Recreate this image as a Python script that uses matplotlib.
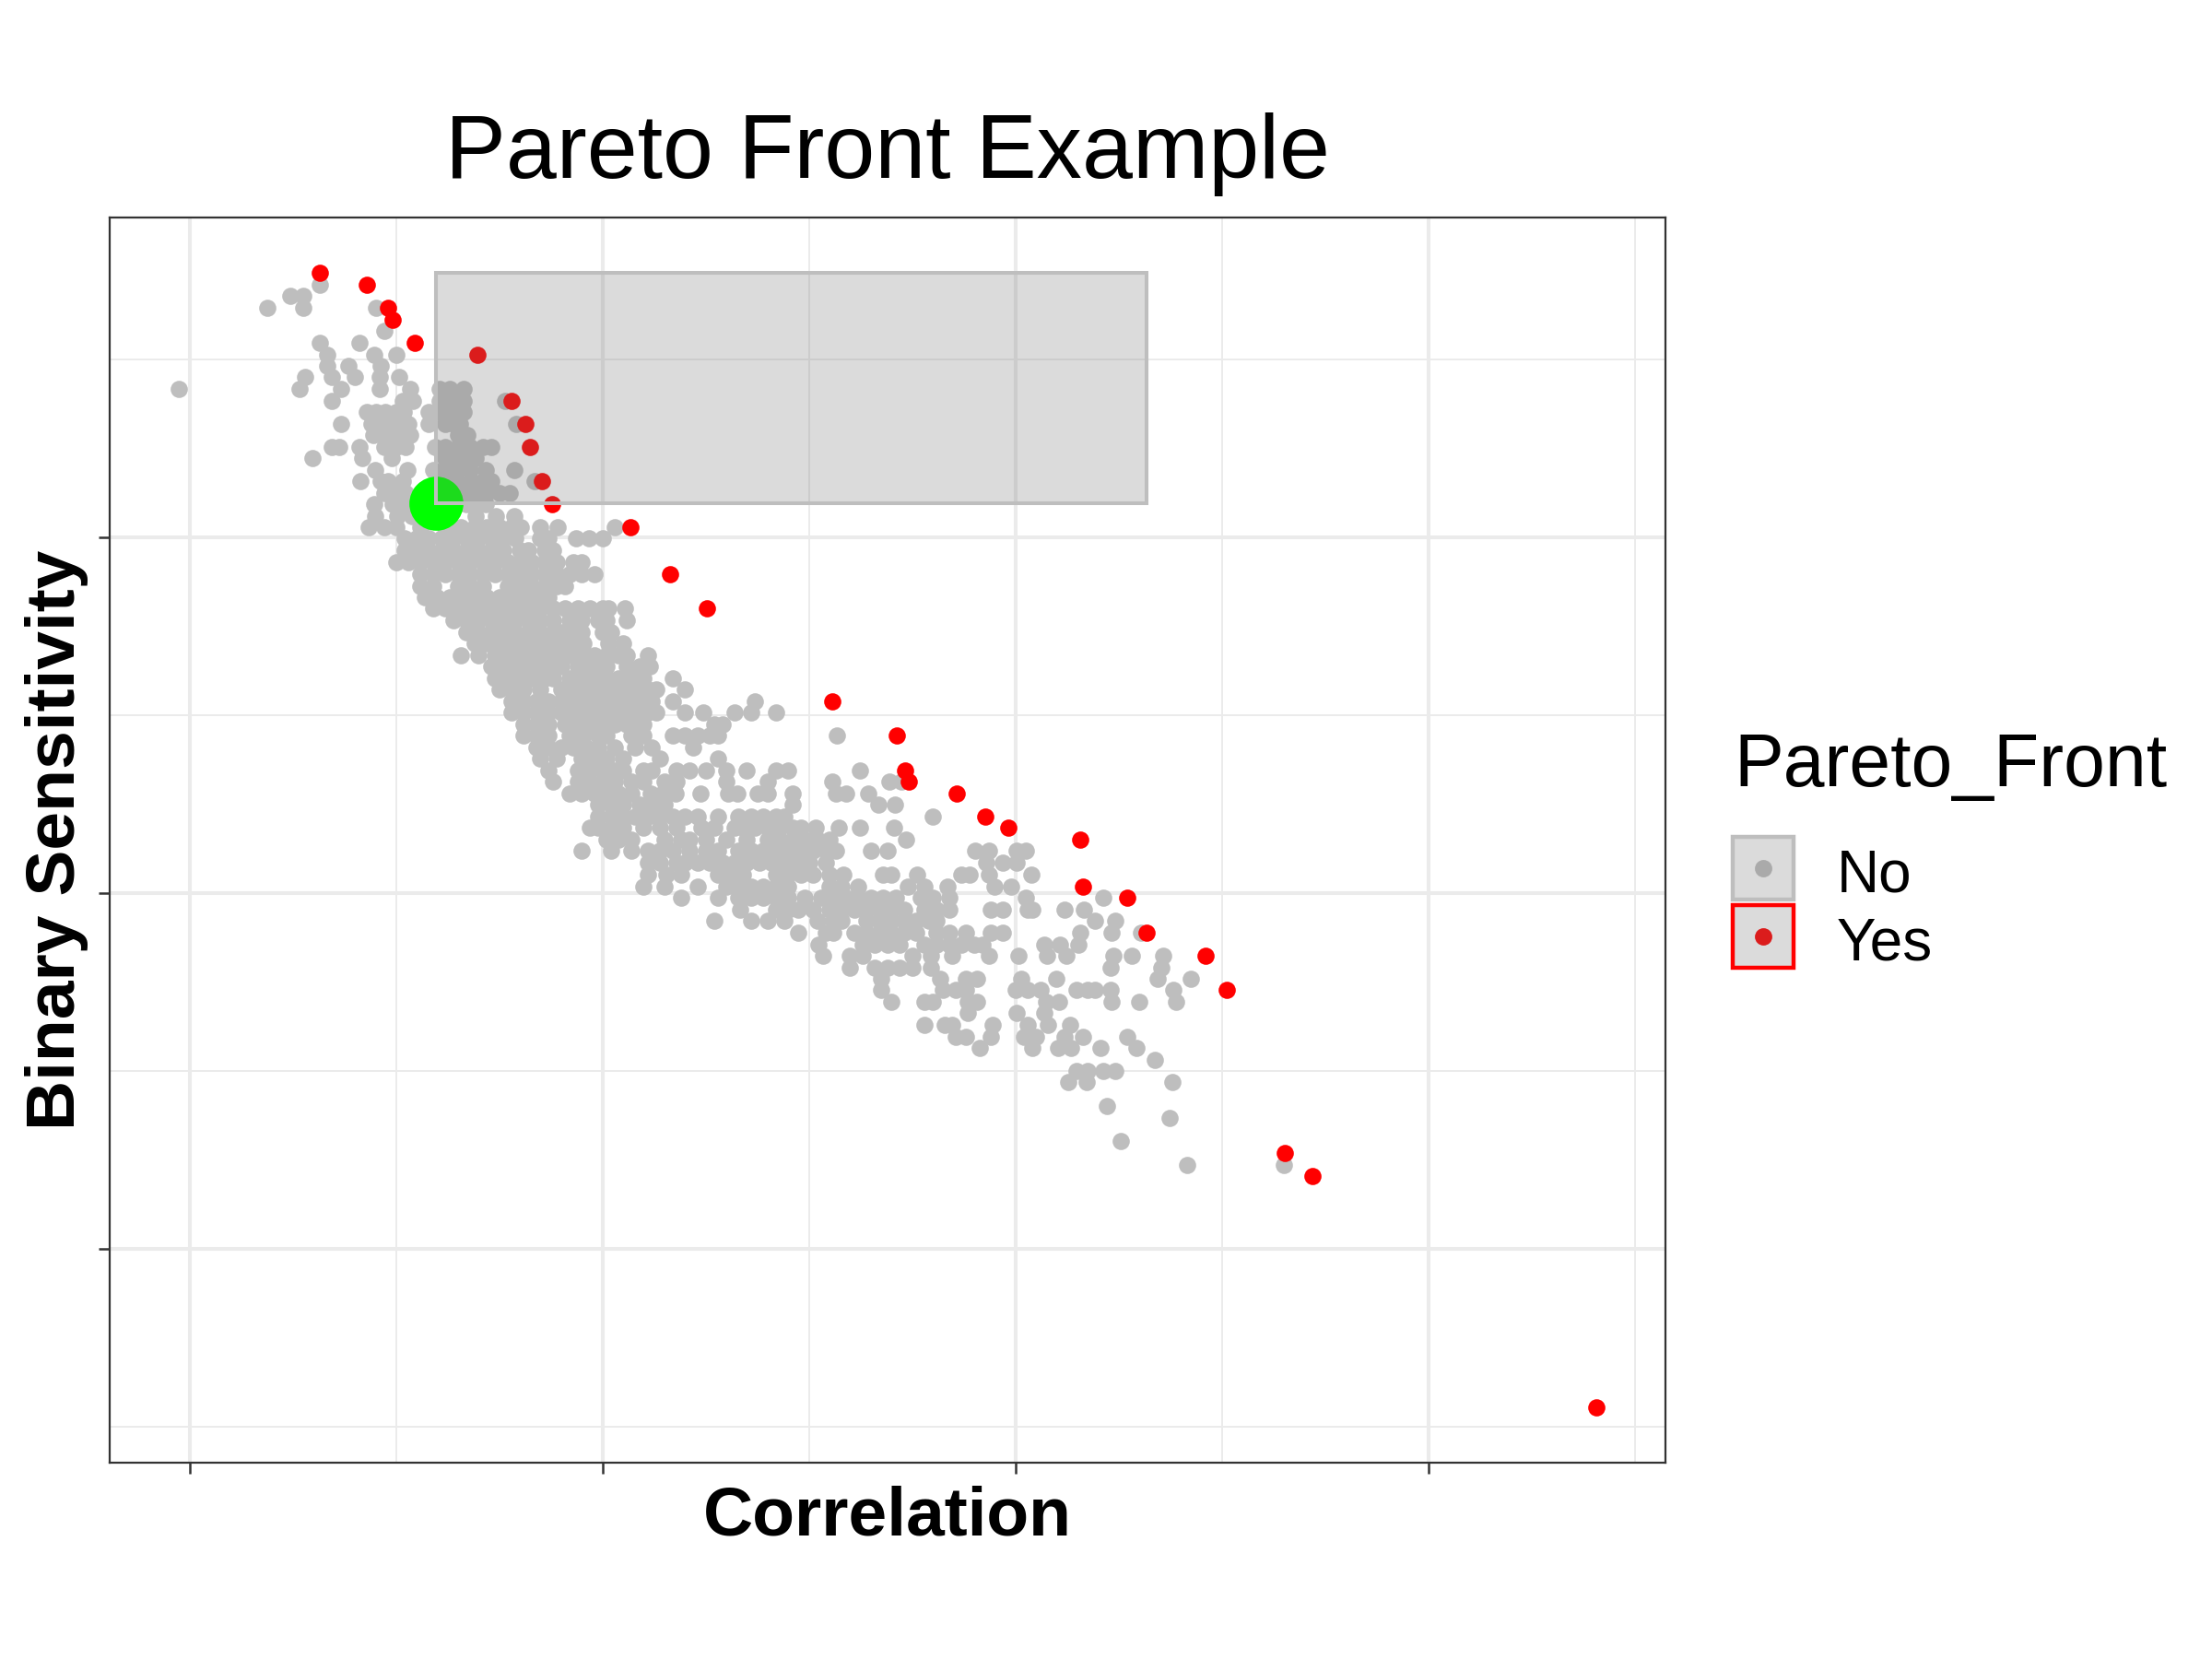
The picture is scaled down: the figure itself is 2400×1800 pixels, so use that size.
import matplotlib
matplotlib.use("Agg")
import matplotlib.pyplot as plt
from matplotlib.patches import Rectangle

plt.rcParams['font.family'] = ['Liberation Sans', 'DejaVu Sans']

# ---- data ----
# grey points, one row per sensitivity level
grey_y_upper = [2.710, 2.678, 2.645, 2.580, 2.547, 2.514, 2.482, 2.450, 2.417, 2.385,
                2.352, 2.320, 2.288, 2.255, 2.222, 2.190, 2.158, 2.125, 2.093, 2.060]
grey_x_upper = [
    [0.315],
    [0.244, 0.275],
    [0.188, 0.275, 0.451],
    [0.472],
    [0.316, 0.411],
    [0.333, 0.447, 0.501],
    [0.333, 0.385, 0.463],
    [0.280, 0.344, 0.400, 0.460, 0.508],
    [-0.025, 0.266, 0.367, 0.460, 0.534, 0.605, 0.631, 0.664],
    [0.344, 0.516, 0.542, 0.605, 0.620, 0.640, 0.664, 0.765],
    [0.430, 0.452, 0.475, 0.500, 0.518, 0.579, 0.600, 0.630, 0.664],
    [0.367, 0.441, 0.460, 0.482, 0.500, 0.530, 0.579, 0.620, 0.640, 0.656, 0.791],
    [0.445, 0.471, 0.501, 0.534, 0.650, 0.672],
    [0.344, 0.363, 0.411, 0.471, 0.500, 0.523, 0.595, 0.620, 0.650, 0.680, 0.710, 0.731],
    [0.298, 0.419, 0.489, 0.620, 0.642, 0.670, 0.694],
    [0.449, 0.527, 0.590, 0.620, 0.649, 0.680, 0.717, 0.787],
    [0.413, 0.463, 0.482, 0.516, 0.620, 0.649, 0.680, 0.710, 0.730, 0.836],
    [0.471, 0.496, 0.523, 0.560, 0.600, 0.664, 0.690, 0.720, 0.750, 0.775],
    [0.447, 0.493, 0.523, 0.560, 0.620, 0.670, 0.700, 0.717],
    [0.450, 0.504, 0.540, 0.600, 0.694, 0.742, 0.787],
]

grey_y_core = [2.030, 1.998, 1.965, 1.931, 1.896, 1.863, 1.832, 1.801, 1.767, 1.734,
               1.702, 1.669, 1.637, 1.604, 1.573, 1.540, 1.508, 1.475, 1.443, 1.410,
               1.378, 1.345, 1.313, 1.281, 1.249, 1.216, 1.184, 1.151, 1.119]
grey_x_core = [
    [0.434, 0.471, 0.500, 0.560, 0.620, 0.657, 0.690, 0.720, 0.750, 0.780, 0.802, 0.850, 0.891, 1.029],
    [0.520, 0.550, 0.580, 0.610, 0.640, 0.670, 0.700, 0.730, 0.760, 0.790, 0.850, 0.870, 0.937, 0.967, 1.002],
    [0.520, 0.550, 0.580, 0.610, 0.640, 0.670, 0.700, 0.730, 0.760, 0.800, 0.820, 0.860, 0.880],
    [0.500, 0.530, 0.560, 0.590, 0.620, 0.650, 0.680, 0.710, 0.740, 0.770, 0.800, 0.830, 0.860, 0.890, 0.930, 0.950],
    [0.560, 0.590, 0.620, 0.650, 0.680, 0.710, 0.740, 0.770, 0.800, 0.830, 0.860, 0.890, 0.920, 0.950, 0.980],
    [0.560, 0.590, 0.650, 0.680, 0.710, 0.770, 0.800, 0.830, 0.860, 0.890, 0.910],
    [0.570, 0.600, 0.630, 0.660, 0.690, 0.720, 0.750, 0.780, 0.810, 0.840, 0.870],
    [0.590, 0.620, 0.650, 0.680, 0.710, 0.740, 0.770, 0.800, 0.830, 0.850, 0.880, 0.910, 0.940, 0.970, 1.000, 1.015, 1.054],
    [0.640, 0.670, 0.700, 0.730, 0.760, 0.790, 0.820, 0.850, 0.880, 0.920, 0.950, 0.990, 1.010, 1.060],
    [0.670, 0.700, 0.730, 0.760, 0.790, 0.820, 0.850, 0.880, 0.900, 0.930, 0.950, 1.000, 1.020],
    [0.690, 0.720, 0.750, 0.780, 0.810, 0.840, 0.870, 0.900, 0.930, 0.955, 1.015, 1.050],
    [0.657, 0.700, 0.740, 0.770, 0.800, 0.830, 0.860, 0.890, 0.920, 0.955, 0.980, 1.010, 1.040, 1.060, 1.110],
    [0.730, 0.760, 0.790, 0.820, 0.850, 0.880, 0.900, 0.940, 0.970, 1.000, 1.010, 1.060, 1.090, 1.115],
    [0.740, 0.770, 0.800, 0.830, 0.860, 0.880, 0.920, 0.950, 0.980, 1.010, 1.040, 1.070, 1.100, 1.170],
    [0.750, 0.780, 0.810, 0.850, 0.900, 0.930, 0.960, 0.990, 1.020, 1.050, 1.080, 1.110, 1.130, 1.200],
    [0.780, 0.810, 0.840, 0.870, 0.900, 0.920, 0.950, 0.980, 1.010, 1.040, 1.070, 1.100, 1.120, 1.170, 1.370],
    [0.780, 0.810, 0.840, 0.870, 0.900, 0.930, 0.960, 0.990, 1.020, 1.050, 1.080, 1.110, 1.130, 1.200,
     1.245, 1.320, 1.360, 1.420],
    [0.810, 0.840, 0.870, 0.910, 0.940, 0.970, 1.000, 1.030, 1.060, 1.090, 1.100, 1.270, 1.290],
    [0.810, 0.840, 0.870, 0.920, 0.955, 0.990, 1.010, 1.070, 1.100, 1.170, 1.200, 1.230, 1.260, 1.280, 1.568],
    [0.840, 0.870, 0.900, 0.930, 0.960, 0.990, 1.030, 1.080, 1.120, 1.220],
    [0.850, 0.890, 0.950, 0.980, 1.010, 1.050, 1.140, 1.280],
    [0.870, 0.940, 0.970, 1.000, 1.030, 1.050, 1.100, 1.120, 1.180, 1.210, 1.250, 1.300, 1.350, 1.420,
     1.450, 1.624],
    [0.880, 0.940, 0.970, 1.000, 1.030, 1.070, 1.100, 1.150, 1.180, 1.300, 1.400, 1.557, 1.695, 1.725],
    [0.920, 0.950, 0.980, 1.010, 1.040, 1.070, 1.118, 1.145, 1.178, 1.237, 1.304, 1.326, 1.375, 1.401,
     1.460, 1.565, 1.590, 1.643],
    [0.990, 1.020, 1.050, 1.090, 1.120, 1.150, 1.460, 1.669, 1.708],
    [0.990, 1.020, 1.050, 1.080, 1.110, 1.140, 1.170, 1.200, 1.230, 1.280, 1.330, 1.360, 1.390, 1.420,
     1.440, 1.799],
    [0.970, 0.990, 1.020, 1.050, 1.100, 1.140, 1.180, 1.240, 1.270, 1.320, 1.340, 1.370, 1.400, 1.430,
     1.460, 1.480, 1.516, 1.572, 1.624, 1.706],
    [1.010, 1.040, 1.070, 1.150, 1.190, 1.210, 1.250, 1.300, 1.350, 1.400, 1.430, 1.460, 1.490, 1.520,
     1.550, 1.736],
    [0.950, 1.020, 1.070, 1.110, 1.140, 1.170, 1.210, 1.250, 1.280, 1.330, 1.360, 1.390, 1.420, 1.450,
     1.480, 1.510, 1.540, 1.565, 1.650, 1.690, 1.903, 1.937, 2.004, 2.026],
]

grey_y_lower = [1.085, 1.052, 1.020, 0.988, 0.955, 0.923, 0.889, 0.857, 0.825, 0.792,
                0.760, 0.728, 0.696, 0.663, 0.630, 0.598, 0.566, 0.533, 0.501, 0.469,
                0.403, 0.369, 0.303, 0.238]
grey_x_lower = [
    [1.110, 1.140, 1.180, 1.200, 1.230, 1.260, 1.290, 1.320, 1.350, 1.380, 1.410, 1.440, 1.470, 1.500,
     1.540, 1.930, 1.970, 2.004],
    [1.110, 1.155, 1.190, 1.280, 1.300, 1.320, 1.340, 1.420, 1.450, 1.480, 1.510, 1.550, 1.583, 1.680,
     1.700, 1.762, 1.870, 1.890, 1.937, 2.039],
    [1.100, 1.150, 1.230, 1.300, 1.330, 1.360, 1.390, 1.420, 1.450, 1.550, 1.580, 1.620, 1.740, 1.780,
     1.836, 1.950, 1.990],
    [1.190, 1.280, 1.330, 1.360, 1.390, 1.420, 1.450, 1.490, 1.530, 1.560, 1.590, 1.620, 1.650, 1.680,
     1.710, 1.770, 1.800, 1.840, 2.026, 2.212],
    [1.334, 1.420, 1.450, 1.475, 1.510, 1.550, 1.580, 1.610, 1.640, 1.670, 1.700, 1.730, 1.780, 1.810,
     1.840, 1.940, 1.970, 2.030, 2.040, 2.119, 2.167],
    [1.271, 1.360, 1.400, 1.440, 1.520, 1.560, 1.580, 1.640, 1.670, 1.700, 1.730, 1.760, 1.790, 1.810,
     2.193, 2.242],
    [1.475, 1.540, 1.560, 1.610, 1.640, 1.670, 1.700, 1.730, 1.760, 1.810, 1.840, 1.880, 1.940, 1.970,
     2.156, 2.233, 2.305],
    [1.524, 1.630, 1.660, 1.690, 1.720, 1.780, 1.810, 1.840, 1.870, 1.900, 1.920, 2.071, 2.108, 2.152],
    [1.535, 1.600, 1.630, 1.750, 1.795, 1.847, 1.936, 2.007, 2.077, 2.124, 2.238, 2.283, 2.359],
    [1.600, 1.660, 1.690, 1.720, 1.750, 1.795, 2.231, 2.353],
    [1.676, 1.818, 1.880, 1.907, 2.015, 2.100, 2.344, 2.426],
    [1.676, 1.825, 1.855, 1.880, 2.000, 2.030, 2.060, 2.149, 2.175, 2.193, 2.231, 2.383],
    [1.700, 1.780, 1.800, 1.885, 1.907, 2.074, 2.106, 2.234, 2.301, 2.389],
    [1.885, 2.004, 2.071],
    [1.780, 1.830, 1.847, 1.944, 2.030, 2.078, 2.133],
    [1.855, 1.880, 1.940, 2.020, 2.050, 2.119, 2.164, 2.272],
    [1.914, 2.041, 2.104, 2.134, 2.207, 2.294],
    [2.337],
    [2.149, 2.175, 2.212, 2.242],
    [2.129, 2.173, 2.380],
    [2.221],
    [2.374],
    [2.255],
    [2.415, 2.651],
]

# Pareto front members
red_x = [0.315, 0.430, 0.481, 0.493, 0.546, 0.697, 0.780, 0.813, 0.824, 0.854,
         0.879, 1.068, 1.164, 1.254, 1.557, 1.714, 1.732, 1.743, 1.859, 1.928,
         1.983, 2.158, 2.163, 2.272, 2.318, 2.461, 2.513, 2.652, 2.720, 3.406]
red_y = [2.743, 2.710, 2.645, 2.613, 2.547, 2.514, 2.385, 2.320, 2.255, 2.158,
         2.093, 2.030, 1.896, 1.801, 1.540, 1.443, 1.345, 1.313, 1.281, 1.216,
         1.184, 1.151, 1.020, 0.988, 0.889, 0.825, 0.728, 0.271, 0.206, -0.444]

# chosen point and target box
best_x, best_y = 0.596, 2.097
box_x = [0.596, 2.318]
box_y = [2.097, 2.743]

x_major = [0, 1, 2, 3]
x_minor = [0.5, 1.5, 2.5, 3.5]
y_major = [0, 1, 2]
y_minor = [-0.5, 0.5, 1.5, 2.5]

grey_x, grey_y = [], []
for ys, xs in [(grey_y_upper, grey_x_upper), (grey_y_core, grey_x_core), (grey_y_lower, grey_x_lower)]:
    for yv, row in zip(ys, xs):
        grey_x += row
        grey_y += [yv] * len(row)

# ---- figure ----
fig = plt.figure(figsize=(12, 9), dpi=200)
W, H = 2400, 1800
ax = fig.add_axes([118.6 / W, 1 - 1586.7 / H, (1807.3 - 118.6) / W, (1586.7 - 235.7) / H])

ax.set_xlim(-0.194, 3.575)
ax.set_ylim(-0.599, 2.900)
ax.set_xticks(x_major)
ax.set_xticks(x_minor, minor=True)
ax.set_yticks(y_major)
ax.set_yticks(y_minor, minor=True)
ax.grid(which='major', color='#EBEBEB', linewidth=1.45)
ax.grid(which='minor', color='#EBEBEB', linewidth=0.72)
ax.set_axisbelow(True)
ax.tick_params(which='major', length=4.3, width=0.9, color='#333333',
               labelbottom=False, labelleft=False)
ax.tick_params(which='minor', length=0)
for s in ax.spines.values():
    s.set_color('#333333')
    s.set_linewidth(0.8)

pt = 45
ax.scatter(grey_x, grey_y, s=pt, color='#BEBEBE', linewidths=0, zorder=2)
ax.scatter(red_x, red_y, s=pt, color='#FF0000', linewidths=0, zorder=3)
ax.scatter([best_x], [best_y], s=446, color='#00FF00', linewidths=0, zorder=4)
ax.add_patch(Rectangle((box_x[0], box_y[0]), box_x[1] - box_x[0], box_y[1] - box_y[0],
                       facecolor=(0.44, 0.44, 0.44, 0.25), edgecolor='#BEBEBE',
                       linewidth=1.45, zorder=5))

# titles
fig.text(963 / W, 1 - 193 / H, 'Pareto Front Example', ha='center', va='baseline', fontsize=35.5)
fig.text(963 / W, 1 - 1666 / H, 'Correlation', ha='center', va='baseline',
         fontsize=27, fontweight='bold')
fig.text(81 / W, 1 - 911 / H, 'Binary Sensitivity', rotation=90, rotation_mode='anchor',
         ha='center', va='baseline', fontsize=27, fontweight='bold')

# legend drawn by hand in pixel space
lax = fig.add_axes([0, 0, 1, 1], zorder=10)
lax.set_xlim(0, W)
lax.set_ylim(H, 0)
lax.axis('off')
lax.text(1881, 853, 'Pareto_Front', ha='left', va='baseline', fontsize=29)
keys = [('No', '#BEBEBE', '#BEBEBE', 906), ('Yes', '#FF0000', '#FF0000', 980)]
for label, dot, edge, top in keys:
    lax.scatter([1913], [top + 36], s=46, color=dot, linewidths=0, zorder=1)
    lax.add_patch(Rectangle((1880.2, top + 2.2), 66.2, 68, facecolor=(0.44, 0.44, 0.44, 0.25),
                            edgecolor=edge, linewidth=1.6, zorder=2))
    lax.text(1993, top + 62, label, ha='left', va='baseline', fontsize=23)

fig.savefig('out.png', dpi=200, facecolor='white')
